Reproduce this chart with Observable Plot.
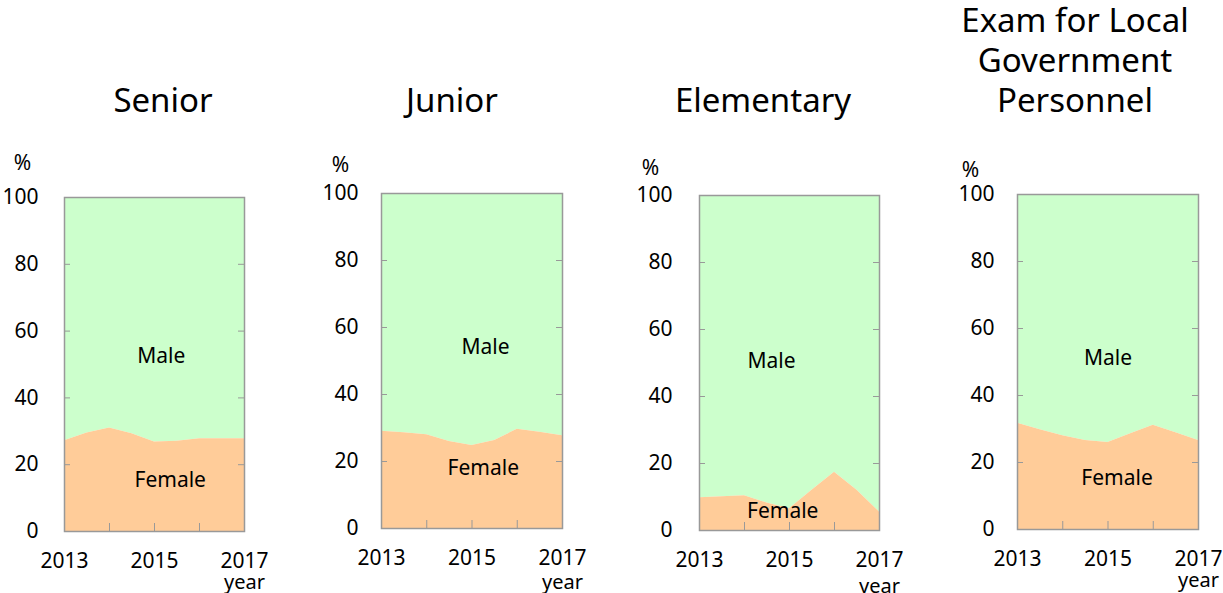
<!DOCTYPE html>
<html>
<head>
<meta charset="utf-8">
<script src="https://cdn.jsdelivr.net/npm/d3@7"></script>
<script src="https://cdn.jsdelivr.net/npm/@observablehq/plot@0.6"></script>
<style>
  html, body { margin: 0; padding: 0; background: #fff; }
  #chart { position: relative; width: 1223px; height: 593px; overflow: hidden; font-family: "Noto Sans", sans-serif; }
  .panel { position: absolute; top: 0; }
  .title { position: absolute; font-size: 33px; line-height: 40px; color: #000; text-align: center; white-space: nowrap; transform: translateX(-50%); }
</style>
</head>
<body>
<div id="chart"></div>
<script>
// ---- data ----
const years = [2013, 2013.5, 2014, 2014.5, 2015, 2015.5, 2016, 2016.5, 2017];
const seniorFemale     = [27.2, 29.5, 31.0, 29.3, 26.8, 27.0, 27.8, 27.8, 27.8];
const juniorFemale     = [29.0, 28.6, 28.0, 26.0, 24.8, 26.3, 29.6, 28.7, 27.7];
const elementaryFemale = [9.8, 10.1, 10.4, 8.2, 6.5, 12.0, 17.4, 12.0, 5.5];
const localFemale      = [31.7, 29.8, 28.0, 26.6, 26.0, 28.6, 31.1, 28.9, 26.6];
const panelTitles = ["Senior", "Junior", "Elementary", "Exam for Local\nGovernment\nPersonnel"];
const yTicks = [0, 20, 40, 60, 80, 100];
const xTickLabels = [2013, 2015, 2017];
const xTicksAll = [2013, 2014, 2015, 2016, 2017];
const seriesNames = ["Male", "Female"];
// label anchor points (year, %) for the "Male"/"Female" texts per panel
const maleLabelAt   = [[2015.15, 52.4], [2015.3, 54], [2014.6, 50.4], [2015.0, 51]];
const femaleLabelAt = [[2015.35, 15.3], [2015.25, 18], [2014.85, 5.7], [2015.2, 15.2]];

const femaleSeries = [seniorFemale, juniorFemale, elementaryFemale, localFemale];

// ---- layout (pixel positions of each panel) ----
const layout = [
  {L: 0,   W: 300, x0: 64,   x1: 244,  y0: 197, y1: 531, titleX: 163,  titleTop: 80, pctDx: -42, pctDy: -34, yearDy: 51, pad: 26},
  {L: 300, W: 310, x0: 381,  x1: 562,  y0: 193, y1: 528, titleX: 452,  titleTop: 80, pctDx: -41, pctDy: -28, yearDy: 54, pad: 23},
  {L: 610, W: 320, x0: 699,  x1: 879,  y0: 195, y1: 530, titleX: 763,  titleTop: 80, pctDx: -49, pctDy: -27, yearDy: 56, pad: 27},
  {L: 930, W: 293, x0: 1017, x1: 1198, y0: 194, y1: 529, titleX: 1075, titleTop: 0,  pctDx: -47, pctDy: -24, yearDy: 51, pad: 23}
];

const chart = document.getElementById("chart");
const maleColor = "#ccffcc", femaleColor = "#ffcc99", axisColor = "#999999";

layout.forEach((p, i) => {
  const data = years.map((yr, j) => ({year: yr, female: femaleSeries[i][j]}));
  const pw = p.x1 - p.x0, ph = p.y1 - p.y0;
  const plot = Plot.plot({
    width: p.W,
    height: 593,
    marginLeft: p.x0 - p.L,
    marginRight: p.W - (p.x1 - p.L),
    marginTop: p.y0,
    marginBottom: 593 - p.y1,
    style: {fontFamily: "'Noto Sans', sans-serif", fontSize: "21px", color: "#000", background: "transparent", overflow: "visible"},
    x: {domain: [2013, 2017], label: null},
    y: {domain: [0, 100], label: null},
    marks: [
      Plot.areaY(data, {x: "year", y1: "female", y2: 100, fill: maleColor}),
      Plot.areaY(data, {x: "year", y1: 0, y2: "female", fill: femaleColor}),
      Plot.tickY(yTicks.slice(1, -1), {y: d => d, stroke: axisColor, insetRight: pw - 6}),
      Plot.tickY(yTicks.slice(1, -1), {y: d => d, stroke: axisColor, insetLeft: pw - 6}),
      Plot.tickX(xTicksAll.slice(1, -1), {x: d => d, stroke: axisColor, insetTop: ph - 8}),
      Plot.frame({stroke: axisColor, strokeWidth: 1.5}),
      Plot.axisY(yTicks, {tickSize: 0, tickPadding: p.pad, fill: "#000", fontSize: 21, label: null}),
      Plot.axisX(xTickLabels, {tickSize: 0, tickPadding: 22, tickFormat: d => String(d), fill: "#000", fontSize: 21, label: null}),
      Plot.text(["%"], {frameAnchor: "top-left", dx: p.pctDx, dy: p.pctDy, lineAnchor: "middle", textAnchor: "middle", fontSize: 21, fill: "#000"}),
      Plot.text(["year"], {frameAnchor: "bottom-right", dy: p.yearDy, lineAnchor: "middle", textAnchor: "middle", fontSize: 20, fill: "#000"}),
      Plot.text([seriesNames[0]], {x: maleLabelAt[i][0], y: maleLabelAt[i][1], fontSize: 21, fill: "#000"}),
      Plot.text([seriesNames[1]], {x: femaleLabelAt[i][0], y: femaleLabelAt[i][1], fontSize: 21, fill: "#000"})
    ]
  });
  const wrap = document.createElement("div");
  wrap.className = "panel";
  wrap.style.left = p.L + "px";
  wrap.appendChild(plot);
  chart.appendChild(wrap);

  const t = document.createElement("div");
  t.className = "title";
  t.style.left = p.titleX + "px";
  t.style.top = p.titleTop + "px";
  t.innerHTML = panelTitles[i].split("\n").join("<br>");
  chart.appendChild(t);
});
</script>
</body>
</html>
